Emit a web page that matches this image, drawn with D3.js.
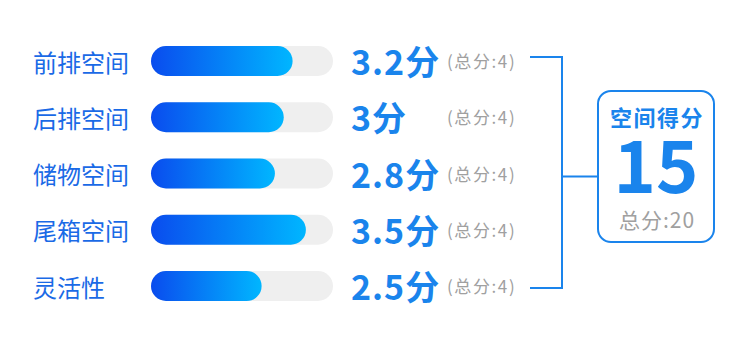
<!DOCTYPE html>
<html><head><meta charset="utf-8">
<script src="https://cdn.jsdelivr.net/npm/d3@7"></script>
<style>body{margin:0;background:#fff}svg{display:block}</style>
</head><body><svg id="c" width="750" height="339"></svg>
<script>
const categories = ["前排空间","后排空间","储物空间","尾箱空间","灵活性"];
const values = [3.2, 3, 2.8, 3.5, 2.5];
const maxScores = [4, 4, 4, 4, 4];
const totalScore = 15;
const totalMax = 20;
const totalTitle = "空间得分";

(function(){
const svg = d3.select("#c");
const font = "'Noto Sans CJK SC','Noto Sans',sans-serif";
const defs = svg.append("defs");
const grad = defs.append("linearGradient").attr("id","g").attr("x1","0%").attr("x2","100%");
grad.append("stop").attr("offset","0%").attr("stop-color","#0a4cee");
grad.append("stop").attr("offset","100%").attr("stop-color","#00b6ff");

const y = d3.scalePoint().domain(categories).range([61, 286]);
const x = d3.scaleLinear().domain([0, 4]).range([0, 177]);
const x0 = 151, trackW = 182, bh = 30;

const g = svg.append("g");
const rows = g.selectAll("g.row").data(categories).join("g").attr("class","row")
  .attr("transform", d => `translate(0,${y(d)})`);

rows.append("text").attr("x", 33).attr("y", 0).attr("dominant-baseline","central")
  .attr("font-family", font).attr("font-size", 24).attr("fill", "#1a6ae6")
  .text(d => d);

rows.append("rect").attr("x", x0).attr("y", -bh/2).attr("width", trackW).attr("height", bh)
  .attr("rx", bh/2).attr("fill", "#efefef");

rows.append("rect").attr("x", x0).attr("y", -bh/2)
  .attr("width", (d,i) => x(values[i])).attr("height", bh)
  .attr("rx", bh/2).attr("fill", "url(#g)");

rows.append("text").attr("x", 351).attr("y", 14)
  .attr("font-family", font).attr("font-size", 34).attr("letter-spacing", 1).attr("font-weight", "bold").attr("fill", "#1a84ec")
  .text((d,i) => values[i] + "分");

rows.append("text").attr("x", 447).attr("y", 7)
  .attr("font-family", font).attr("font-size", 17).attr("letter-spacing", 1.6).attr("fill", "#a0a0a0")
  .text((d,i) => `(总分:${maxScores[i]})`);

const c = "#1a84ec";
const bx = 562, yTop = y(categories[0]) - 4, yBot = y(categories[categories.length-1]) + 2, mid = 176.5;
const br = svg.append("g").attr("stroke", c).attr("stroke-width", 2).attr("fill","none");
br.append("path").attr("d", `M530,${yTop}H${bx}V${yBot}H530`);
br.append("path").attr("d", `M${bx},${mid}H598`);

svg.append("rect").attr("x", 598).attr("y", 91).attr("width", 116).attr("height", 151)
  .attr("rx", 13).attr("fill","#fff").attr("stroke", c).attr("stroke-width", 2);
svg.append("text").attr("x", 657).attr("y", 126).attr("text-anchor","middle")
  .attr("font-family", font).attr("font-size", 22).attr("letter-spacing", 1.5).attr("font-weight","bold").attr("fill", c)
  .text(totalTitle);
svg.append("text").attr("x", 656).attr("y", 193).attr("text-anchor","middle")
  .attr("font-family", font).attr("font-size", 72).attr("font-weight","bold").attr("fill", c)
  .text(totalScore);
svg.append("text").attr("x", 657).attr("y", 228).attr("text-anchor","middle")
  .attr("font-family", font).attr("font-size", 21).attr("letter-spacing", 1).attr("fill", "#a0a0a0")
  .text(`总分:${totalMax}`);
})();
</script></body></html>
